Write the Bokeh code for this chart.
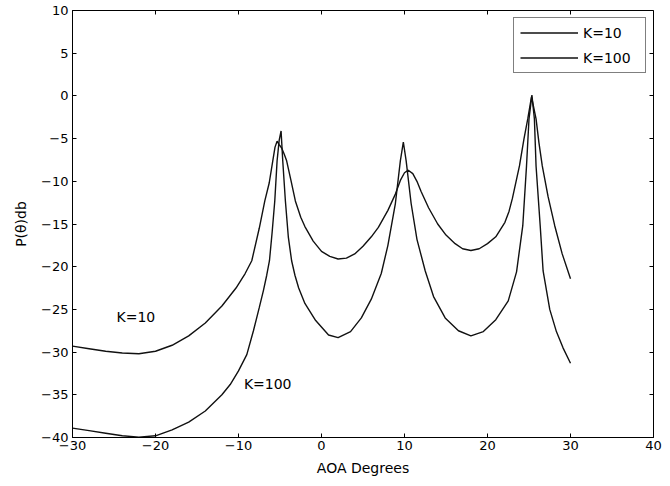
from bokeh.plotting import figure
from bokeh.models import LinearAxis, FixedTicker, Range1d, Legend, LegendItem, Label
from bokeh.embed import file_html
from bokeh.resources import INLINE

# ---- data ----
x_ticks = [-30, -20, -10, 0, 10, 20, 30, 40]
y_ticks = [-40, -35, -30, -25, -20, -15, -10, -5, 0, 5, 10]

k10_x = [-30, -28, -26, -24, -22, -20, -18, -16, -14, -12, -10.3, -9.2, -8.4, -7.5, -6.83,
         -6.3, -5.87, -5.6, -5.35, -5.1, -4.8, -4.5, -4.2, -3.7, -3.15, -2.5, -2, -1, 0, 1,
         2, 3, 4, 5, 6, 6.85, 8, 8.9, 9.5, 10, 10.45, 11, 11.5, 12, 12.9, 14, 15, 16.1, 17,
         18, 19, 20, 21, 22.1, 22.6, 23, 23.85, 24.4, 24.85, 25.3, 25.85, 26.2, 26.6, 27.3,
         28.1, 29, 30]
k10_y = [-29.3, -29.6, -29.9, -30.1, -30.2, -29.9, -29.2, -28.1, -26.6, -24.6, -22.5, -20.8,
         -19.3, -15.5, -12.3, -10.2, -7.6, -6.0, -5.3, -5.7, -6.1, -6.8, -7.6, -9.8, -12.3,
         -14.2, -15.3, -17.0, -18.2, -18.8, -19.1, -19.0, -18.5, -17.6, -16.5, -15.4, -13.4,
         -11.5, -9.9, -9.0, -8.7, -9.1, -10.0, -11.2, -13.1, -15.0, -16.3, -17.3, -17.9,
         -18.1, -17.9, -17.3, -16.5, -14.8, -13.5, -12.0, -8.2, -5.0, -2.7, -0.1, -2.7,
         -5.5, -8.2, -11.8, -15.2, -18.5, -21.4]

k100_x = [-30, -28, -26, -24, -22, -20, -18, -16, -14, -12, -11, -10, -9, -8.2, -7.5, -7,
          -6.6, -6.27, -5.95, -5.63, -5.35, -5.1, -4.87, -4.67, -4.35, -4.0, -3.6, -3.2,
          -2.75, -2, -0.7, 0.85, 2, 3.5, 4.8, 6, 7.2, 8, 8.9, 9.5, 9.86, 10.2, 10.8, 11.5,
          12.5, 13.5, 14.9, 16.5, 18, 19.5, 21, 22.5, 23.5, 24.25, 24.7, 25.0, 25.35, 25.65,
          25.85, 26.35, 26.7, 27.5, 28.3, 29.1, 30]
k100_y = [-38.9, -39.2, -39.5, -39.8, -39.95, -39.8, -39.1, -38.2, -36.9, -35.0, -33.8,
          -32.2, -30.3, -27.5, -24.8, -22.8, -21.0, -19.3, -16.0, -12.3, -7.6, -5.2, -4.1,
          -7.6, -12.3, -16.5, -19.3, -21.0, -22.5, -24.3, -26.3, -28.0, -28.3, -27.6, -26.0,
          -23.8, -20.8, -17.5, -12.6, -7.6, -5.4, -7.6, -12.6, -16.8, -20.5, -23.5, -26.0,
          -27.5, -28.1, -27.6, -26.2, -24.0, -20.6, -15.2, -8.2, -2.7, 0.1, -2.7, -8.2,
          -15.2, -20.5, -25.0, -27.6, -29.5, -31.3]

series_names = ["K=10", "K=100"]
annot_text = ["K=10", "K=100"]
annot_x = [-24.7, -9.35]
annot_y = [-25.9, -33.7]

x_label = "AOA Degrees"
y_label = "P(\u03b8)db"

FONT = "DejaVu Sans"
TICK_FS = "13px"
FS = "14px"

x_range = Range1d(x_ticks[0], x_ticks[-1])
y_range = Range1d(y_ticks[0], y_ticks[-1])

p = figure(width=662, height=478, output_backend="svg", toolbar_location=None,
           x_range=x_range, y_range=y_range,
           min_border_left=72, min_border_right=9, min_border_top=10, min_border_bottom=41,
           x_axis_location=None, y_axis_location=None)
p.grid.visible = False
p.outline_line_color = "black"
p.background_fill_color = "white"
p.border_fill_color = "white"


def style(ax, ticks, labels=True):
    ax.ticker = FixedTicker(ticks=ticks)
    ax.minor_tick_line_color = None
    ax.major_tick_in = 4
    ax.major_tick_out = 0
    ax.axis_line_color = "black"
    ax.major_tick_line_color = "black"
    ax.major_label_text_font = FONT
    ax.major_label_text_font_size = TICK_FS
    ax.major_label_text_color = "black" if labels else None
    ax.major_label_standoff = 3 if labels else 0
    ax.axis_label_text_font = FONT
    ax.axis_label_text_font_size = FS
    ax.axis_label_text_font_style = "normal"
    ax.axis_label_text_color = "black"


xb = LinearAxis(axis_label=x_label, axis_label_standoff=7)
yl = LinearAxis(axis_label=y_label, axis_label_standoff=9)
xt = LinearAxis(fixed_location=y_ticks[-1])
yr = LinearAxis(fixed_location=x_ticks[-1])
style(xb, x_ticks)
style(yl, y_ticks)
yl.major_label_standoff = 4
style(xt, x_ticks, labels=False)
style(yr, y_ticks, labels=False)
p.add_layout(xb, "below")
p.add_layout(yl, "left")
p.add_layout(xt, "above")
p.add_layout(yr, "right")

r10 = p.line(k10_x, k10_y, line_color="#111111", line_width=1.4)
r100 = p.line(k100_x, k100_y, line_color="#111111", line_width=1.4)

legend = Legend(items=[LegendItem(label=series_names[0], renderers=[r10]),
                       LegendItem(label=series_names[1], renderers=[r100])],
                location="top_right", margin=7, padding=6, spacing=8,
                glyph_width=58, glyph_height=17, label_height=17, label_width=56,
                label_standoff=5, border_line_color="black", border_line_width=1,
                background_fill_alpha=1.0, label_text_font=FONT,
                label_text_font_size=FS, label_text_color="black")
p.add_layout(legend)

for t, ax_, ay_ in zip(annot_text, annot_x, annot_y):
    p.add_layout(Label(x=ax_, y=ay_, text=t, text_font=FONT, text_font_size=FS,
                       text_color="black", text_baseline="middle", text_align="left"))

open("out.html", "w").write(file_html(p, INLINE))
